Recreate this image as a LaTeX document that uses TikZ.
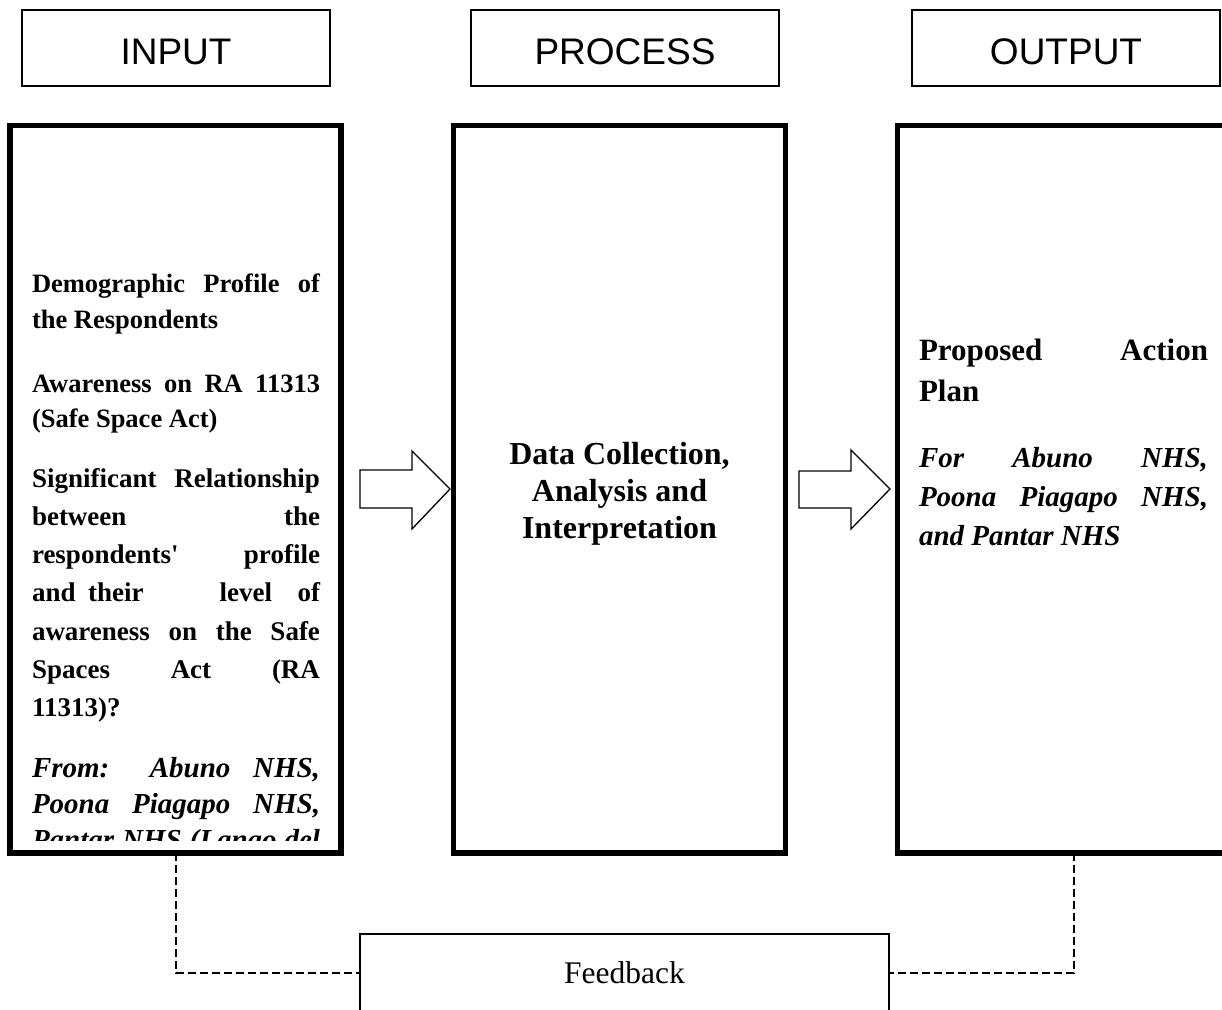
\documentclass[tikz,border=0pt]{standalone}
\usepackage{fontspec}
\setmainfont{Liberation Serif}
\newfontfamily\hdrfont{Liberation Sans}
\newcommand{\jline}[2][288pt]{\makebox[#1][s]{#2}}
\begin{document}
\begin{tikzpicture}[x=1pt,y=-1pt,
  hdrbox/.style={draw, line width=1.3pt, minimum width=308pt, minimum height=76pt,
    inner sep=0pt, text height=32.5pt, text depth=0pt,
    font=\hdrfont\fontsize{37}{44}\selectfont},
  bigbox/.style={draw, line width=5.5pt, inner sep=0pt, outer sep=0pt, minimum height=727.5pt},
  blockarrow/.style={draw, line width=1.3pt, fill=white, line join=miter},
  fbline/.style={draw, line width=1.3pt, dash pattern=on 8pt off 4pt},
  txt/.style={anchor=base west, inner sep=0pt, outer sep=0pt}
]
\useasboundingbox (0,0) rectangle (1222,1009);
\clip (0,0) rectangle (1222,1009);

% header boxes
\node[hdrbox] (hin)  at (176,48)  {INPUT};
\node[hdrbox] (hpro) at (625,48)  {PROCESS};
\node[hdrbox] (hout) at (1066,48) {OUTPUT};

% big boxes
\node[bigbox, minimum width=331pt]   (inbox)  at (175.5,489.25) {};
\node[bigbox, minimum width=332pt]   (probox) at (619.5,489.25) {};
\node[bigbox, minimum width=332.5pt] (outbox) at (1063.75,489.25) {};

% left box text (clipped at the bottom)
\begin{scope}
\clip (14,128) rectangle (338,840);
\node[txt] (in1) at (32,292) {\parbox[t]{288pt}{\fontsize{26.5}{36}\selectfont\bfseries
  \jline{Demographic Profile of}\\the Respondents}};
\node[txt] (in2) at (32,392) {\parbox[t]{288pt}{\fontsize{26.5}{35}\selectfont\bfseries
  \jline{Awareness on RA 11313}\\(Safe Space Act)}};
\node[txt] (in3) at (32,487) {\parbox[t]{288pt}{\fontsize{27}{38.3}\selectfont\bfseries
  \jline{Significant Relationship}\\
  \jline{between the}\\
  \jline{respondents\textquotesingle{} profile}\\
  \hbox to 288pt{and\hspace{0pt plus 1fil}their\hspace{0pt plus 6fil}level\hspace{0pt plus 2fil}of}\\
  \jline{awareness on the Safe}\\
  \jline{Spaces Act (RA}\\
  11313)?}};
\node[txt] (in4) at (32,777) {\parbox[t]{288pt}{\fontsize{29}{36}\selectfont\bfseries\itshape
  \jline{From: Abuno NHS,}\\
  \jline{Poona Piagapo NHS,}\\
  \jline{Pantar NHS (Lanao del}}};
\end{scope}

% middle box text
\node[anchor=base, inner sep=0pt] (protext) at (619.5,464) {\parbox[t]{320pt}{\centering\fontsize{32}{37}\selectfont\bfseries
  Data Collection,\\Analysis and\\Interpretation}};

% right box text
\node[txt] (out1) at (919,360) {\parbox[t]{289pt}{\fontsize{31}{41}\selectfont\bfseries
  \jline[289pt]{Proposed Action}\\Plan}};
\node[txt] (out2) at (919,467) {\parbox[t]{289pt}{\fontsize{29}{39}\selectfont\bfseries\itshape
  \jline[289pt]{For Abuno NHS,}\\
  \jline[289pt]{Poona Piagapo NHS,}\\
  and Pantar NHS}};

% block arrows
\draw[blockarrow] (360,470) -- (412,470) -- (412,451) -- (450,489) -- (412,529) -- (412,508) -- (360,508) -- cycle;
\draw[blockarrow] (799,471) -- (851,471) -- (851,450) -- (890,489) -- (851,529) -- (851,508) -- (799,508) -- cycle;

% feedback
\node[draw, line width=1.3pt, minimum width=529pt, minimum height=78pt, inner sep=0pt,
  font=\fontsize{31.5}{36}\selectfont] (fbbox) at (624.5,973) {Feedback};
\coordinate (fl) at (176,0);
\coordinate (fr) at (1074,0);
\draw[fbline] (fl |- inbox.south) |- (fbbox.west);
\draw[fbline] (fr |- outbox.south) |- (fbbox.east);
\end{tikzpicture}
\end{document}
